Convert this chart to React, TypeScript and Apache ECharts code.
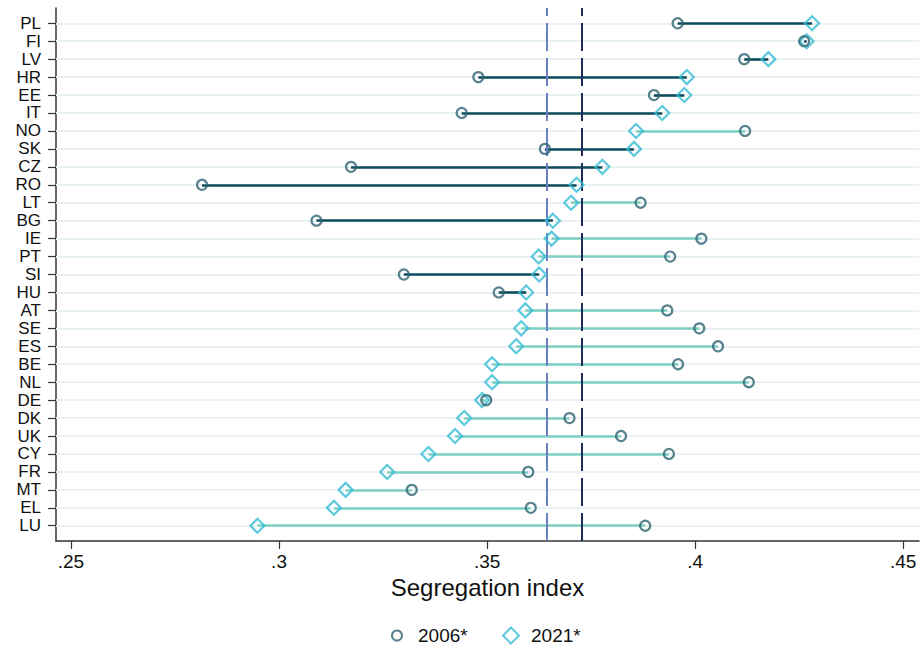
import React, { useEffect, useRef } from "react";
import * as echarts from "echarts";

const countries = ["PL","FI","LV","HR","EE","IT","NO","SK","CZ","RO","LT","BG","IE","PT","SI","HU","AT","SE","ES","BE","NL","DE","DK","UK","CY","FR","MT","EL","LU"];
const v2006 = [0.3958,0.4262,0.4118,0.3479,0.3901,0.3439,0.4120,0.3639,0.3173,0.2815,0.3869,0.3090,0.4015,0.3940,0.3300,0.3528,0.3933,0.4010,0.4055,0.3959,0.4129,0.3498,0.3698,0.3822,0.3937,0.3599,0.3319,0.3605,0.3880];
const v2021 = [0.4281,0.4268,0.4176,0.3980,0.3974,0.3921,0.3858,0.3853,0.3777,0.3715,0.3702,0.3658,0.3655,0.3624,0.3625,0.3594,0.3592,0.3582,0.3570,0.3512,0.3512,0.3488,0.3445,0.3423,0.3359,0.3260,0.3160,0.3132,0.2948];
const refLines = [0.3643, 0.3728];
const xTicks = [0.25, 0.3, 0.35, 0.4, 0.45];
const legendNames = ["2006*", "2021*"];

const FONT = "'Liberation Sans', Arial, Helvetica, sans-serif";
const X_MIN = 0.2464;
const X_MAX = 0.4538;
const Y_PAD = 0.85;

export default function App() {
  const ref = useRef<HTMLDivElement>(null);
  useEffect(() => {
    if (!ref.current) return;
    const chart = echarts.init(ref.current, null, { renderer: "svg" });
    const idx = countries.map((_, i) => i);
    const yMin = -Y_PAD;
    const yMax = countries.length - 1 + Y_PAD;
    chart.setOption({
      animation: false,
      backgroundColor: "#ffffff",
      textStyle: { fontFamily: FONT },
      grid: { left: 56, right: 3, top: 8, bottom: 107, containLabel: false },
      xAxis: {
        type: "value",
        min: X_MIN,
        max: X_MAX,
        position: "bottom",
        name: "Segregation index",
        nameLocation: "middle",
        nameGap: 31,
        nameTextStyle: { fontSize: 24, color: "#111", fontFamily: FONT },
        axisLine: { show: true, onZero: false, lineStyle: { color: "#333", width: 1.5 } },
        axisTick: { show: true, length: 8, customValues: xTicks, lineStyle: { color: "#333", width: 1.2 } },
        axisLabel: {
          customValues: xTicks,
          showMinLabel: true,
          showMaxLabel: true,
          fontSize: 19,
          color: "#111",
          margin: 11,
          fontFamily: FONT,
          formatter: (v: number) => String(+v.toFixed(2)).replace(/^0/, ""),
        },
        splitLine: { show: false },
      },
      yAxis: {
        type: "value",
        inverse: true,
        min: yMin,
        max: yMax,
        position: "left",
        axisLine: { show: true, onZero: false, lineStyle: { color: "#333", width: 1.5 } },
        axisTick: { show: true, length: 8, customValues: idx, lineStyle: { color: "#333", width: 1.2 } },
        axisLabel: {
          customValues: idx,
          showMinLabel: true,
          showMaxLabel: true,
          hideOverlap: false,
          fontSize: 17,
          lineHeight: 17,
          color: "#111",
          margin: 15,
          fontFamily: FONT,
          formatter: (v: number) => countries[Math.round(v)] ?? "",
        },
        splitLine: { show: false },
      },
      legend: [
        {
          data: [legendNames[0]],
          left: 391,
          top: 626,
          padding: 0,
          itemWidth: 10,
          itemHeight: 10,
          textStyle: { fontSize: 19, color: "#111", fontFamily: FONT, padding: [0, 0, 0, 11] },
        },
        {
          data: [legendNames[1]],
          left: 502,
          top: 626,
          padding: 0,
          itemWidth: 16,
          itemHeight: 16,
          textStyle: { fontSize: 19, color: "#111", fontFamily: FONT, padding: [0, 0, 0, 7] },
        },
      ],
      series: [
        {
          type: "lines",
          name: "gridlines",
          coordinateSystem: "cartesian2d",
          silent: true,
          z: 1,
          lineStyle: { color: "#e8f1f4", width: 2, opacity: 1 },
          data: idx.map((i) => ({ coords: [[X_MIN, i], [X_MAX, i]] })),
        },
        {
          type: "lines",
          name: "conn",
          coordinateSystem: "cartesian2d",
          silent: true,
          z: 2,
          data: idx.map((i) => ({
            coords: [[v2006[i], i], [v2021[i], i]],
            lineStyle: { color: v2021[i] > v2006[i] ? "#0d4b5b" : "#7ecfc3", width: 2.6, opacity: 1 },
          })),
        },
        {
          type: "lines",
          name: "refs",
          coordinateSystem: "cartesian2d",
          silent: true,
          z: 3,
          data: [
            { coords: [[refLines[0], yMax], [refLines[0], yMin]], lineStyle: { color: "#6b7fc6", width: 2, type: [28, 7], opacity: 1 } },
            { coords: [[refLines[1], yMax], [refLines[1], yMin]], lineStyle: { color: "#1f2b5a", width: 2, type: [28, 7], opacity: 1 } },
          ],
        },
        {
          type: "scatter",
          name: legendNames[1],
          z: 4,
          symbol: "diamond",
          symbolSize: 14,
          itemStyle: { color: "rgba(255,255,255,0)", borderColor: "#34bcd4", borderWidth: 2.2 },
          data: idx.map((i) => [v2021[i], i]),
        },
        {
          type: "scatter",
          name: legendNames[0],
          z: 5,
          symbol: "circle",
          symbolSize: 10,
          itemStyle: { color: "rgba(255,255,255,0)", borderColor: "#2e6472", borderWidth: 2.2 },
          data: idx.map((i) => [v2006[i], i]),
        },
      ],
    });
    return () => chart.dispose();
  }, []);
  return <div ref={ref} style={{ position: "absolute", left: 0, top: 0, width: 922, height: 648 }} />;
}
